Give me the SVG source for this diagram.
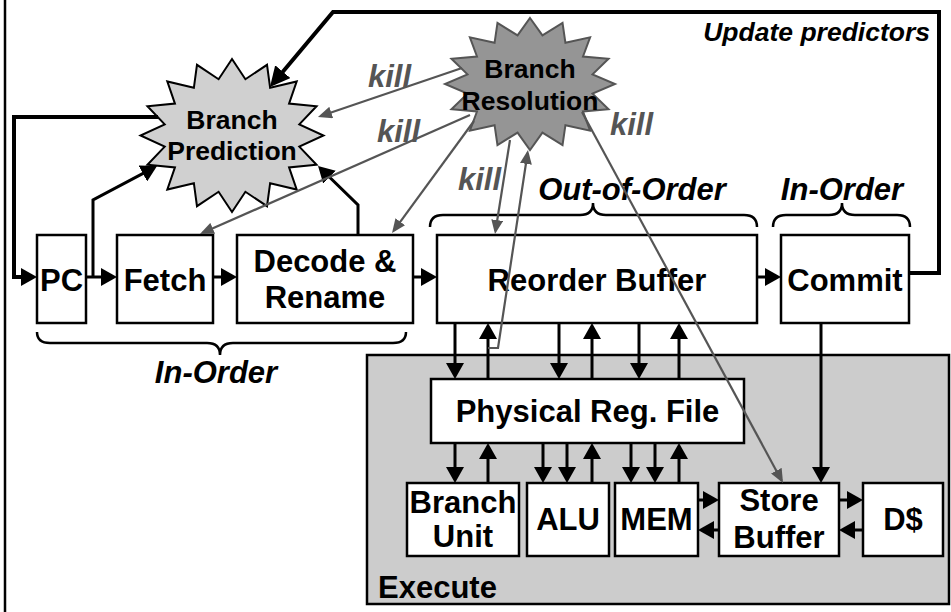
<svg xmlns="http://www.w3.org/2000/svg" width="951" height="612" viewBox="0 0 951 612">
<defs>
<style>
text{font-family:"Liberation Sans",Arial,sans-serif;font-weight:bold;fill:#000}
.box{fill:#fff;stroke:#000;stroke-width:2.5}
.lbl{font-size:31px;text-anchor:middle}
.star{font-size:26.5px;text-anchor:middle}
.it{font-style:italic}
.kill{font-size:31px;font-style:italic;fill:#555}
.c{fill:none;stroke:#000;stroke-width:3;marker-end:url(#ah)}
.thick{fill:none;stroke:#000;stroke-width:4}
.k{fill:none;stroke:#555;stroke-width:2.2;marker-end:url(#ag)}
.brace{fill:none;stroke:#000;stroke-width:2.5}
</style>
<marker id="ah" viewBox="0 0 16 18" markerWidth="16" markerHeight="18" refX="12" refY="9" orient="auto" markerUnits="userSpaceOnUse"><path d="M0,0 L16,9 L0,18 z" fill="#000"/></marker>
<marker id="ahb" viewBox="0 0 20 20" markerWidth="20" markerHeight="20" refX="15" refY="10" orient="auto" markerUnits="userSpaceOnUse"><path d="M0,0 L20,10 L0,20 z" fill="#000"/></marker>
<marker id="ag" viewBox="0 0 14 12" markerWidth="14" markerHeight="12" refX="11" refY="6" orient="auto" markerUnits="userSpaceOnUse"><path d="M0,0 L14,6 L0,12 z" fill="#555"/></marker>
</defs>
<rect width="951" height="612" fill="#fff"/>
<line x1="5" y1="0" x2="5" y2="612" stroke="#000" stroke-width="2.5"/>

<g id="execute">
<rect x="367" y="355" width="582" height="249" fill="#cccccc" stroke="#000" stroke-width="2.5"/>
<text x="378" y="598" style="font-size:31px">Execute</text>
</g>

<g id="pc"><rect class="box" x="37" y="235" width="49" height="88"/><text class="lbl" x="61.5" y="291">PC</text></g>
<g id="fetch"><rect class="box" x="117" y="235" width="96" height="88"/><text class="lbl" x="165" y="291">Fetch</text></g>
<g id="decode"><rect class="box" x="237" y="235" width="176" height="88"/><text class="lbl" x="325" y="272">Decode &amp;</text><text class="lbl" x="325" y="308">Rename</text></g>
<g id="rob"><rect class="box" x="437" y="235" width="320" height="88"/><text class="lbl" x="597" y="291">Reorder Buffer</text></g>
<g id="commit"><rect class="box" x="781" y="235" width="128" height="88"/><text class="lbl" x="845" y="291">Commit</text></g>
<g id="prf"><rect class="box" x="431" y="379" width="313" height="64"/><text class="lbl" x="587.5" y="422">Physical Reg. File</text></g>
<g id="branchunit"><rect class="box" x="407" y="483" width="112" height="73"/><text class="lbl" x="463" y="513">Branch</text><text class="lbl" x="463" y="547">Unit</text></g>
<g id="alu"><rect class="box" x="527" y="483" width="82" height="73"/><text class="lbl" x="568" y="530">ALU</text></g>
<g id="mem"><rect class="box" x="615" y="483" width="83" height="73"/><text class="lbl" x="656.5" y="530">MEM</text></g>
<g id="storebuffer"><rect class="box" x="719" y="483" width="120" height="73"/><text class="lbl" x="779" y="511">Store</text><text class="lbl" x="779" y="548">Buffer</text></g>
<g id="dcache"><rect class="box" x="863" y="483" width="80" height="73"/><text class="lbl" x="903" y="530">D$</text></g>

<g id="branchprediction">
<polygon fill="#d0d0d0" stroke="#000" stroke-width="2" points="232,59 245.39,79.23 267.02,64.82 270.13,87.79 296.70,81.41 289.06,103.62 316.54,106.23 299.31,124.31 323.5,135.5 299.31,146.69 316.54,164.77 289.06,167.38 296.70,189.59 270.13,183.21 267.02,206.18 245.39,191.77 232,212 218.61,191.77 196.98,206.18 193.87,183.21 167.30,189.59 174.94,167.38 147.46,164.77 164.69,146.69 140.5,135.5 164.69,124.31 147.46,106.23 174.94,103.62 167.30,81.41 193.87,87.79 196.98,64.82 218.61,79.23"/>
<text class="star" x="232" y="129">Branch</text><text class="star" x="232" y="160">Prediction</text>
</g>
<g id="branchresolution">
<polygon fill="#959595" stroke="#555" stroke-width="2" points="530,18 542.44,35.45 562.53,23.02 565.42,42.84 590.10,37.33 583.01,56.50 608.53,58.74 592.53,74.34 615,84 592.53,93.66 608.53,109.26 583.01,111.50 590.10,130.67 565.42,125.16 562.53,144.98 542.44,132.55 530,150 517.56,132.55 497.47,144.98 494.58,125.16 469.90,130.67 476.99,111.50 451.47,109.26 467.47,93.66 445,84 467.47,74.34 451.47,58.74 476.99,56.50 469.90,37.33 494.58,42.84 497.47,23.02 517.56,35.45"/>
<text class="star" x="530" y="78">Branch</text><text class="star" x="530" y="110">Resolution</text>
</g>

<g id="braces">
<path class="brace" d="M37,332 Q37,343 50,343 H207 Q220,343 220,355 Q220,343 233,343 H393 Q406,343 406,332"/>
<path class="brace" d="M430,227 Q430,215 443,215 H580 Q593,215 593,203 Q593,215 606,215 H744 Q757,215 757,227"/>
<path class="brace" d="M773,227 Q773,215 786,215 H829 Q842,215 842,203 Q842,215 855,215 H897 Q910,215 910,227"/>
<text class="it" x="632" y="200" style="font-size:31px;text-anchor:middle">Out-of-Order</text>
<text class="it" x="842" y="200" style="font-size:31px;text-anchor:middle">In-Order</text>
<text class="it" x="216" y="383" style="font-size:31px;text-anchor:middle">In-Order</text>
</g>

<g id="connectors">
<path class="thick" d="M158,117 H14 V277 H33" marker-end="url(#ah)"/>
<path class="c" d="M86,277 H113"/>
<path class="c" d="M93,277 V200 L153.5,167.9"/>
<path class="c" d="M213,277 H233"/>
<path class="c" d="M358,235 V205 L320.9,168.8"/>
<path class="c" d="M413,277 H433"/>
<path class="c" d="M757,277 H777"/>
<path class="thick" d="M909,273 H939 V12 H333 L273.2,83.2" marker-end="url(#ahb)"/>
<path class="c" d="M455,323 V375"/>
<path class="c" d="M488,379 V327"/>
<path class="c" d="M559,323 V375"/>
<path class="c" d="M592,379 V327"/>
<path class="c" d="M639,323 V375"/>
<path class="c" d="M679,379 V327"/>
<path class="c" d="M455,443 V479"/>
<path class="c" d="M488,483 V447"/>
<path class="c" d="M543,443 V479"/>
<path class="c" d="M567,443 V479"/>
<path class="c" d="M592,483 V447"/>
<path class="c" d="M631,443 V479"/>
<path class="c" d="M655,443 V479"/>
<path class="c" d="M679,483 V447"/>
<path class="c" d="M821,323 V479"/>
<path class="c" d="M698,500 H715"/>
<path class="c" d="M719,530 H702"/>
<path class="c" d="M839,500 H859"/>
<path class="c" d="M863,530 H843"/>
<path class="k" d="M462,68 L320.8,116"/>
<path class="k" d="M470,115 L202.7,232.8"/>
<path class="k" d="M474,121 L393.8,230.6"/>
<path class="k" d="M510,140 L495.5,231"/>
<path class="k" d="M488,348 H498 L527.55,152.97"/>
<path class="k" d="M582,112 L781.6,480.4"/>
</g>

<g id="labels">
<text class="it" x="930" y="41" style="font-size:26.5px;text-anchor:end">Update predictors</text>
<text class="kill" x="368" y="87">kill</text>
<text class="kill" x="377" y="142">kill</text>
<text class="kill" x="458" y="190">kill</text>
<text class="kill" x="610" y="135">kill</text>
</g>
</svg>
